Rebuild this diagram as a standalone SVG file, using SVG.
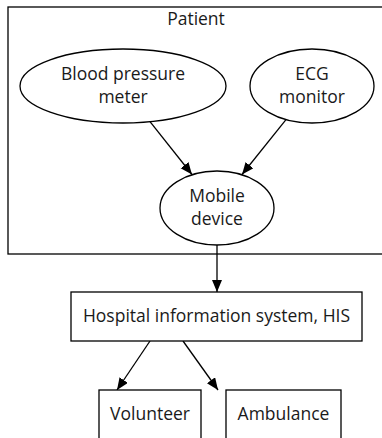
<svg xmlns="http://www.w3.org/2000/svg" width="382" height="438" viewBox="0 0 382 438">
<defs>
<marker id="arr" markerUnits="userSpaceOnUse" markerWidth="13" markerHeight="11" refX="12" refY="5" orient="auto">
<path d="M0,0 L12,5 L0,10 z" fill="#000"/>
</marker>
<style>
.n{fill:#fff;stroke:#000;stroke-width:1.3}
.c{fill:none;stroke:#000;stroke-width:1.3}
.e{fill:none;stroke:#000;stroke-width:1.3;marker-end:url(#arr)}
text{font-family:"Open Sans","Noto Sans","DejaVu Sans",sans-serif;font-size:17.5px;fill:#1a1a1a;text-anchor:middle}
</style>
</defs>
<rect width="382" height="438" fill="#fff"/>
<g id="cluster_patient">
<rect class="c" x="8" y="7" width="390" height="247"/>
<text x="196" y="25">Patient</text>
</g>
<g id="connectors">
<line class="e" x1="150" y1="121.7" x2="192" y2="174.5"/>
<line class="e" x1="286" y1="119.6" x2="242" y2="174.5"/>
<line class="e" x1="217" y1="245" x2="217" y2="292"/>
<line class="e" x1="150" y1="341" x2="117" y2="390"/>
<line class="e" x1="183" y1="341" x2="218" y2="390"/>
</g>
<g id="bp">
<ellipse class="n" cx="123" cy="86" rx="103" ry="37"/>
<text x="123" y="80">Blood pressure</text>
<text x="123" y="102.5">meter</text>
</g>
<g id="ecg">
<ellipse class="n" cx="312" cy="86" rx="62" ry="37"/>
<text x="312" y="80">ECG</text>
<text x="312" y="102.5">monitor</text>
</g>
<g id="mobile">
<ellipse class="n" cx="217" cy="208" rx="57" ry="37"/>
<text x="217" y="202">Mobile</text>
<text x="217" y="224.5">device</text>
</g>
<g id="his">
<rect class="n" x="71" y="292" width="291" height="49"/>
<text x="216.5" y="322">Hospital information system, HIS</text>
</g>
<g id="volunteer">
<rect class="n" x="99" y="390" width="102" height="60"/>
<text x="150" y="420">Volunteer</text>
</g>
<g id="ambulance">
<rect class="n" x="226" y="390" width="115" height="60"/>
<text x="283.5" y="420">Ambulance</text>
</g>
</svg>
